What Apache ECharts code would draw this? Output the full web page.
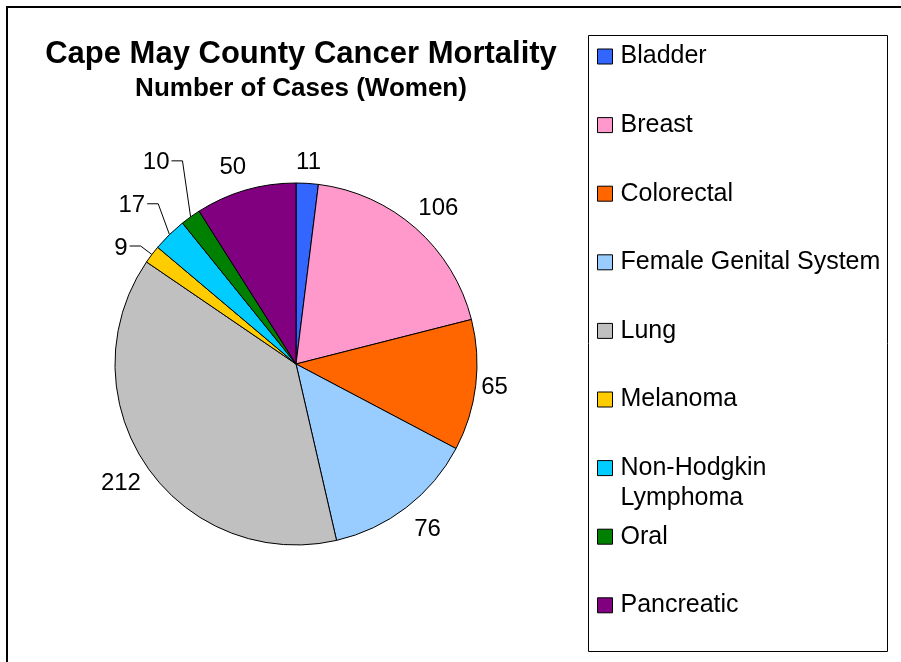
<!DOCTYPE html>
<html>
<head>
<meta charset="utf-8">
<title>Cape May County Cancer Mortality</title>
<script src="https://cdn.jsdelivr.net/npm/echarts@6/dist/echarts.min.js"></script>
<style>
    html, body { margin: 0; padding: 0; background: #fff; }
    #chart { width: 901px; height: 662px; }
</style>
</head>
<body>
<div id="chart"></div>
<script>
var categories = ['Bladder', 'Breast', 'Colorectal', 'Female Genital System', 'Lung', 'Melanoma', 'Non-Hodgkin Lymphoma', 'Oral', 'Pancreatic'];
var cases = [11, 106, 65, 76, 212, 9, 17, 10, 50];
var colors = ['#3366FF', '#FF99CC', '#FF6600', '#99CCFF', '#C0C0C0', '#FFCC00', '#00CCFF', '#008000', '#800080'];

// pie geometry (px)
var cx = 296, cy = 364, r = 181;
// where each value label sits: distance from centre and a small angle nudge (deg)
var labelDist = [202, 211, 200, 211, 212, 210, 228, 245, 207];
var labelNudge = [0, 1, 0, -1, 0, -3.7, -1.7, 0.8, -1.6];
// thin slices get a leader line
var leaderLines = [5, 6, 7];
// leading empty line keeps the icon next to the first text line
var wrapNames = { 'Non-Hodgkin Lymphoma': '\nNon-Hodgkin\nLymphoma' };

var FONT = 'Liberation Sans, Arial, sans-serif';

initChart();

function midAngle(i) {
    var total = 0, before = 0;
    for (var k = 0; k < cases.length; k++) {
        total += cases[k];
        if (k < i) before += cases[k];
    }
    return (before + cases[i] / 2) / total * 360;
}

function buildLegends() {
    // one legend per entry so the wrapped one keeps the regular spacing
    return categories.map(function(name, i) {
        var centre = 56.5 + i * 68.6;
        var wrapped = !!wrapNames[name];
        return {
            data: [name],
            left: 597,
            top: wrapped ? centre - 45 : centre - 15,
            orient: 'vertical',
            padding: 0,
            icon: 'rect',
            itemWidth: 15,
            itemHeight: 15,
            selectedMode: false,
            itemStyle: { borderColor: '#000', borderWidth: 1 },
            formatter: function(n) { return wrapNames[n] || n; },
            textStyle: {
                color: '#000',
                fontFamily: FONT,
                fontSize: 25,
                lineHeight: 30,
                padding: [0, 0, 0, 3]
            }
        };
    });
}

function initChart() {
    var myChart = echarts.init(document.getElementById('chart'));
    var data = categories.map(function(name, i) {
        return {
            name: name,
            value: cases[i],
            labelLine: { show: leaderLines.indexOf(i) >= 0 }
        };
    });
    var option = {
        animation: false,
        color: colors,
        title: {
            text: 'Cape May County Cancer Mortality',
            subtext: 'Number of Cases (Women)',
            left: 296,
            top: 34,
            textAlign: 'center',
            itemGap: 6,
            textStyle: { color: '#000', fontFamily: FONT, fontSize: 31, fontWeight: 'bold' },
            subtextStyle: { color: '#000', fontFamily: FONT, fontSize: 26, fontWeight: 'bold' }
        },
        legend: buildLegends(),
        graphic: [{
            // outer chart frame, right and bottom edges run off the picture
            type: 'rect',
            shape: { x: 7, y: 7, width: 1000, height: 1000 },
            style: { fill: 'none', stroke: '#000', lineWidth: 2 },
            silent: true
        }, {
            // legend box
            type: 'rect',
            shape: { x: 588.5, y: 35.5, width: 299, height: 616 },
            style: { fill: 'none', stroke: '#000', lineWidth: 1 },
            silent: true
        }],
        series: [{
            type: 'pie',
            center: [cx, cy],
            radius: r,
            startAngle: 90,
            clockwise: true,
            avoidLabelOverlap: false,
            emphasis: { disabled: true },
            itemStyle: { borderColor: '#000', borderWidth: 1 },
            label: {
                show: true,
                position: 'outside',
                formatter: '{c}',
                color: '#000',
                fontFamily: FONT,
                fontSize: 24
            },
            labelLine: {
                length: 10,
                length2: 10,
                lineStyle: { color: '#000', width: 1 }
            },
            labelLayout: function(params) {
                var i = params.dataIndex;
                var a = (midAngle(i) + labelNudge[i]) * Math.PI / 180;
                var x = cx + labelDist[i] * Math.sin(a);
                var y = cy - labelDist[i] * Math.cos(a);
                var res = { x: x, y: y, align: 'center', verticalAlign: 'middle' };
                if (leaderLines.indexOf(i) >= 0) {
                    var m = midAngle(i) * Math.PI / 180;
                    var right = x + params.labelRect.width / 2;
                    res.labelLinePoints = [
                        [cx + r * Math.sin(m), cy - r * Math.cos(m)],
                        [right + 13, y - 2],
                        [right + 2, y - 2]
                    ];
                }
                return res;
            },
            data: data
        }]
    };
    myChart.setOption(option);
}
</script>
</body>
</html>
